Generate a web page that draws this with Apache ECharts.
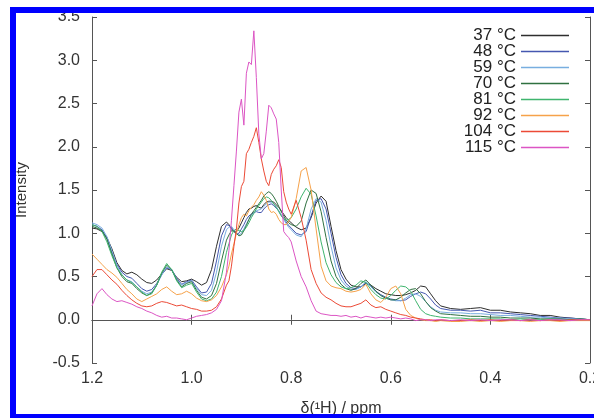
<!DOCTYPE html>
<html>
<head>
<meta charset="utf-8">
<title>1H spectra vs temperature</title>
<script src="https://cdn.jsdelivr.net/npm/echarts@6/dist/echarts.min.js"></script>
<style>
html, body { margin: 0; padding: 0; background: #fff; overflow: hidden; }
#chart { width: 594px; height: 418px; }
#frame { position: absolute; left: 10px; top: 7px; width: 600px; height: 401px; border: 6px solid #0000ff; pointer-events: none; }
</style>
</head>
<body>
<div id="chart"></div>
<div id="frame"></div>
<script>
// chemical shift grid (ppm), finer around the main peak
var ppm = [
    1.20, 1.19, 1.18, 1.17, 1.16, 1.15, 1.14, 1.13, 1.12, 1.11, 1.10, 1.09, 1.08, 1.07, 1.06, 1.05, 1.04, 1.03, 1.02, 1.01, 1.00, 0.99, 0.98, 0.97, 0.96, 0.95, 0.94,
    0.930, 0.925, 0.920, 0.915, 0.910, 0.905, 0.900, 0.895, 0.890, 0.885, 0.880, 0.875, 0.870, 0.865, 0.860, 0.855, 0.850, 0.845, 0.840, 0.835, 0.830, 0.825, 0.820, 0.815, 0.810, 0.805, 0.800,
    0.79, 0.78, 0.77, 0.76, 0.75, 0.74, 0.73, 0.72, 0.71, 0.70, 0.69, 0.68, 0.67, 0.66, 0.65, 0.64, 0.63, 0.62, 0.61, 0.60, 0.59, 0.58, 0.57, 0.56, 0.55, 0.54, 0.53, 0.52, 0.51, 0.50,
    0.48, 0.46, 0.44, 0.42, 0.40, 0.38, 0.36, 0.34, 0.32, 0.30, 0.28, 0.26, 0.24, 0.22, 0.20
];

var temps = ['37 °C', '48 °C', '59 °C', '70 °C', '81 °C', '92 °C', '104 °C', '115 °C'];
var colors = ['#2e2e2e', '#4557b0', '#78aee0', '#2f7140', '#3fb56e', '#f6a24a', '#ec4a36', '#dc55c4'];

var t37 = [
    1.06, 1.05, 1.02, 0.95, 0.82, 0.66, 0.57, 0.53, 0.55, 0.52, 0.47, 0.43, 0.42, 0.46, 0.53, 0.59, 0.57, 0.49, 0.44, 0.45, 0.47, 0.44, 0.40, 0.43, 0.58, 0.85, 1.08,
    1.13, 1.10, 1.05, 1.02, 1.02, 1.06, 1.12, 1.18, 1.24, 1.28, 1.29, 1.31, 1.32, 1.30, 1.29, 1.33, 1.36, 1.37, 1.37, 1.36, 1.33, 1.30, 1.26, 1.22, 1.18, 1.15, 1.12,
    1.07, 1.04, 1.06, 1.18, 1.35, 1.43, 1.37, 1.08, 0.80, 0.58, 0.47, 0.40, 0.38, 0.38, 0.42, 0.40, 0.36, 0.33, 0.30, 0.29, 0.28, 0.28, 0.29, 0.31, 0.34, 0.39, 0.38, 0.30, 0.22, 0.16,
    0.13, 0.12, 0.13, 0.14, 0.11, 0.11, 0.09, 0.08, 0.07, 0.05, 0.05, 0.03, 0.02, 0.01, 0.00
];
var t48 = [
    1.10, 1.08, 1.04, 0.94, 0.78, 0.64, 0.55, 0.50, 0.48, 0.42, 0.36, 0.33, 0.35, 0.42, 0.52, 0.60, 0.58, 0.48, 0.41, 0.44, 0.46, 0.38, 0.31, 0.32, 0.42, 0.68, 0.97,
    1.10, 1.09, 1.07, 1.02, 0.99, 1.00, 1.05, 1.10, 1.16, 1.20, 1.22, 1.24, 1.25, 1.24, 1.24, 1.28, 1.31, 1.33, 1.34, 1.32, 1.29, 1.26, 1.21, 1.17, 1.13, 1.09, 1.06,
    1.00, 0.98, 1.02, 1.20, 1.38, 1.40, 1.28, 1.00, 0.72, 0.52, 0.42, 0.37, 0.36, 0.38, 0.43, 0.39, 0.33, 0.29, 0.26, 0.24, 0.23, 0.22, 0.23, 0.27, 0.30, 0.32, 0.30, 0.24, 0.17, 0.13,
    0.11, 0.11, 0.10, 0.11, 0.08, 0.08, 0.07, 0.06, 0.05, 0.04, 0.03, 0.02, 0.02, 0.01, 0.00
];
var t59 = [
    1.12, 1.10, 1.06, 0.96, 0.80, 0.63, 0.52, 0.46, 0.44, 0.38, 0.33, 0.30, 0.32, 0.40, 0.52, 0.61, 0.58, 0.47, 0.40, 0.43, 0.45, 0.36, 0.29, 0.28, 0.34, 0.55, 0.85,
    1.04, 1.07, 1.08, 1.04, 1.00, 0.98, 1.00, 1.05, 1.11, 1.16, 1.20, 1.23, 1.26, 1.27, 1.28, 1.31, 1.34, 1.36, 1.36, 1.34, 1.31, 1.26, 1.21, 1.16, 1.11, 1.07, 1.04,
    0.98, 0.96, 1.05, 1.28, 1.40, 1.36, 1.15, 0.85, 0.60, 0.46, 0.39, 0.35, 0.35, 0.38, 0.44, 0.38, 0.32, 0.28, 0.25, 0.23, 0.22, 0.22, 0.25, 0.29, 0.30, 0.27, 0.21, 0.15, 0.11, 0.09,
    0.08, 0.08, 0.07, 0.07, 0.06, 0.05, 0.05, 0.04, 0.03, 0.03, 0.02, 0.02, 0.01, 0.01, 0.00
];
var t70 = [
    1.08, 1.06, 1.03, 0.93, 0.76, 0.60, 0.50, 0.44, 0.42, 0.36, 0.31, 0.28, 0.31, 0.40, 0.54, 0.63, 0.58, 0.46, 0.38, 0.42, 0.44, 0.34, 0.26, 0.24, 0.28, 0.42, 0.68,
    0.92, 0.98, 1.03, 1.02, 1.00, 0.97, 0.98, 1.03, 1.09, 1.16, 1.22, 1.26, 1.30, 1.34, 1.38, 1.43, 1.46, 1.48, 1.46, 1.42, 1.37, 1.31, 1.25, 1.20, 1.15, 1.12, 1.10,
    1.08, 1.14, 1.35, 1.50, 1.46, 1.25, 0.95, 0.68, 0.50, 0.41, 0.36, 0.34, 0.36, 0.42, 0.46, 0.40, 0.33, 0.28, 0.25, 0.23, 0.23, 0.26, 0.31, 0.35, 0.36, 0.30, 0.21, 0.14, 0.10, 0.07,
    0.06, 0.05, 0.04, 0.04, 0.03, 0.03, 0.02, 0.02, 0.02, 0.01, 0.01, 0.01, 0.00, 0.01, 0.00
];
var t81 = [
    1.10, 1.08, 1.02, 0.90, 0.74, 0.60, 0.52, 0.46, 0.43, 0.38, 0.32, 0.28, 0.30, 0.40, 0.55, 0.65, 0.58, 0.45, 0.37, 0.40, 0.42, 0.32, 0.24, 0.22, 0.24, 0.32, 0.50,
    0.78, 0.88, 0.98, 1.03, 1.05, 1.03, 1.02, 1.03, 1.07, 1.12, 1.18, 1.23, 1.28, 1.32, 1.36, 1.40, 1.42, 1.41, 1.38, 1.34, 1.30, 1.25, 1.20, 1.17, 1.15, 1.16, 1.18,
    1.28, 1.42, 1.52, 1.45, 1.20, 0.90, 0.66, 0.52, 0.43, 0.38, 0.36, 0.37, 0.40, 0.45, 0.43, 0.35, 0.29, 0.25, 0.24, 0.28, 0.34, 0.39, 0.38, 0.33, 0.22, 0.12, 0.07, 0.05, 0.04, 0.03,
    0.02, 0.02, 0.01, 0.01, 0.01, 0.01, 0.00, 0.01, 0.00, 0.00, 0.01, 0.00, 0.00, 0.00, 0.00
];
var t92 = [
    0.76, 0.70, 0.64, 0.58, 0.54, 0.49, 0.42, 0.35, 0.30, 0.24, 0.21, 0.24, 0.27, 0.30, 0.35, 0.38, 0.33, 0.29, 0.30, 0.33, 0.30, 0.25, 0.22, 0.21, 0.23, 0.28, 0.38,
    0.52, 0.62, 0.76, 0.88, 1.00, 1.10, 1.18, 1.22, 1.20, 1.26, 1.30, 1.33, 1.38, 1.42, 1.48, 1.44, 1.38, 1.28, 1.24, 1.25, 1.22, 1.16, 1.12, 1.10, 1.10, 1.14, 1.18,
    1.40, 1.72, 1.76, 1.50, 1.05, 0.62, 0.45, 0.39, 0.37, 0.36, 0.33, 0.32, 0.33, 0.35, 0.41, 0.30, 0.23, 0.20, 0.26, 0.36, 0.39, 0.30, 0.12, 0.05, 0.02, 0.00, -0.01, -0.01, -0.02, -0.01,
    -0.02, -0.02, -0.01, -0.02, -0.01, -0.02, -0.01, -0.01, -0.02, -0.01, -0.01, -0.02, -0.01, -0.01, -0.01
];
var t104 = [
    0.50, 0.58, 0.58, 0.52, 0.46, 0.41, 0.34, 0.28, 0.23, 0.19, 0.16, 0.15, 0.16, 0.19, 0.21, 0.20, 0.18, 0.16, 0.17, 0.15, 0.13, 0.12, 0.10, 0.10, 0.11, 0.15, 0.24,
    0.40, 0.45, 0.62, 0.85, 1.05, 1.35, 1.54, 1.60, 1.92, 1.97, 2.05, 2.12, 2.22, 2.05, 1.86, 1.72, 1.60, 1.55, 1.68, 1.74, 1.78, 1.85, 1.76, 1.48, 1.36, 1.28, 1.22,
    1.38, 1.18, 0.92, 0.58, 0.42, 0.31, 0.26, 0.23, 0.19, 0.16, 0.15, 0.15, 0.17, 0.19, 0.23, 0.17, 0.14, 0.15, 0.12, 0.10, 0.08, 0.06, 0.05, 0.03, 0.02, 0.01, 0.00, 0.00, -0.01, 0.00,
    -0.01, -0.01, 0.00, -0.01, 0.00, -0.01, 0.00, -0.01, 0.00, -0.01, 0.00, -0.01, 0.00, 0.00, 0.00
];
var t115 = [
    0.16, 0.30, 0.36, 0.29, 0.24, 0.21, 0.22, 0.20, 0.18, 0.15, 0.13, 0.10, 0.08, 0.05, 0.03, 0.04, 0.02, 0.02, 0.01, 0.00, 0.02, 0.04, 0.05, 0.06, 0.08, 0.12, 0.22,
    0.55, 0.80, 1.15, 1.55, 1.95, 2.40, 2.55, 2.25, 2.85, 2.98, 2.95, 3.34, 2.80, 2.15, 1.86, 1.92, 2.18, 2.48, 2.45, 2.38, 2.32, 2.05, 1.50, 1.02, 0.98, 0.95, 0.90,
    0.68, 0.50, 0.38, 0.22, 0.10, 0.07, 0.06, 0.05, 0.05, 0.04, 0.05, 0.03, 0.04, 0.02, 0.04, 0.03, 0.02, 0.03, 0.02, 0.03, 0.02, 0.01, 0.02, 0.01, -0.01, 0.00, 0.00, -0.01, 0.00, 0.00,
    -0.01, 0.00, -0.01, 0.00, -0.01, 0.00, 0.00, -0.01, 0.00, -0.01, 0.00, 0.00, -0.01, 0.00, 0.00
];
var spectra = [t37, t48, t59, t70, t81, t92, t104, t115];

var font = "'Liberation Sans', Arial, sans-serif";
var axisColor = '#555';

var chart = echarts.init(document.getElementById('chart'));

var series = [];
for (var k = 0; k < spectra.length; k++) {
    series.push({
        name: temps[k],
        type: 'line',
        symbol: 'none',
        showSymbol: false,
        animation: false,
        data: ppm.map(function (p, i) { return [p, this[i]]; }, spectra[k]),
        lineStyle: { width: 1, color: colors[k] },
        itemStyle: { color: colors[k] }
    });
}

var option = {
    backgroundColor: '#fff',
    animation: false,
    textStyle: { fontFamily: font },
    grid: {
        left: 92,
        right: 4,
        top: 17,
        bottom: 55,
        containLabel: false,
        outerBoundsMode: 'none'
    },
    legend: {
        orient: 'vertical',
        right: 20,
        top: 22,
        align: 'right',
        icon: 'rect',
        itemWidth: 48,
        itemHeight: 1.5,
        itemGap: -1,
        data: temps,
        textStyle: { fontSize: 17, lineHeight: 16, color: '#222', fontFamily: font }
    },
    xAxis: [
        {
            type: 'value',
            inverse: true,
            min: 0.2,
            max: 1.2,
            interval: 0.2,
            name: 'δ(¹H) / ppm',
            nameLocation: 'middle',
            nameGap: 38,
            nameTextStyle: { fontSize: 16, color: '#333', fontFamily: font },
            axisLine: { lineStyle: { color: axisColor, width: 1 } },
            axisTick: { inside: true, length: 5, lineStyle: { color: axisColor } },
            axisLabel: {
                fontSize: 16,
                color: '#333',
                margin: 8,
                formatter: function (v) { return v.toFixed(1); }
            },
            splitLine: { show: false }
        },
        {
            type: 'value',
            position: 'top',
            inverse: true,
            min: 0.2,
            max: 1.2,
            interval: 0.2,
            axisLine: { lineStyle: { color: axisColor, width: 1 } },
            axisTick: { inside: true, length: 5, lineStyle: { color: axisColor } },
            axisLabel: { show: false },
            splitLine: { show: false }
        }
    ],
    yAxis: [
        {
            type: 'value',
            min: -0.5,
            max: 3.5,
            interval: 0.5,
            name: 'Intensity',
            nameLocation: 'middle',
            nameGap: 63,
            nameTextStyle: { fontSize: 15, color: '#333', fontFamily: font },
            axisLine: { show: true, lineStyle: { color: axisColor, width: 1 } },
            axisTick: { show: true, inside: true, length: 5, lineStyle: { color: axisColor } },
            axisLabel: {
                fontSize: 16,
                color: '#333',
                margin: 12,
                formatter: function (v) { return v.toFixed(1); }
            },
            splitLine: { show: false }
        },
        {
            type: 'value',
            position: 'right',
            min: -0.5,
            max: 3.5,
            interval: 0.5,
            axisLine: { show: true, lineStyle: { color: axisColor, width: 1 } },
            axisTick: { show: true, inside: true, length: 5, lineStyle: { color: axisColor } },
            axisLabel: { show: false },
            splitLine: { show: false }
        }
    ],
    series: series
};

chart.setOption(option);
</script>
</body>
</html>
